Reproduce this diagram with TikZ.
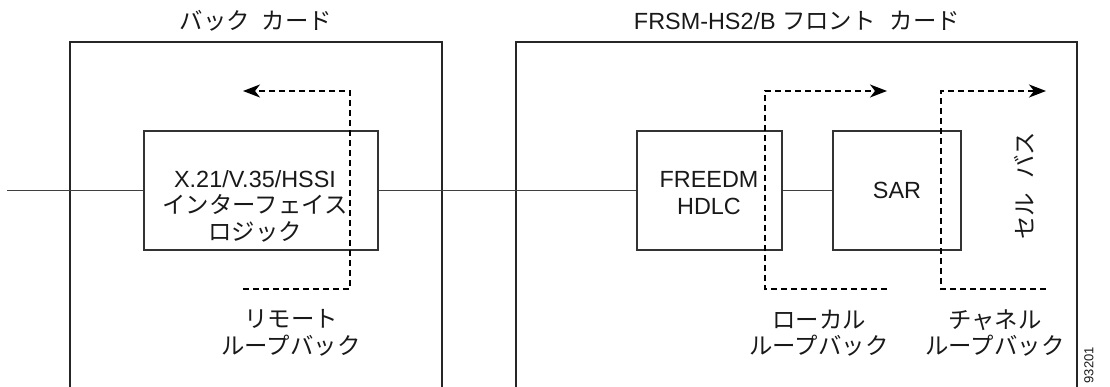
\documentclass[tikz,border=0pt]{standalone}
\usepackage{fontspec}
\setmainfont{Liberation Sans}
\newfontfamily\jp{Noto Sans CJK JP}
\usetikzlibrary{arrows.meta}
\begin{document}
\begin{tikzpicture}[x=1pt,y=-1pt,
  card/.style={draw=black!85, line width=1.4pt},
  blk/.style={draw=black!80, line width=1.4pt, rectangle, inner sep=0pt},
  wire/.style={draw=black!75, line width=1.4pt},
  loopline/.style={draw=black, line width=1.5pt, dash pattern=on 6pt off 4pt,
    -{Stealth[length=17pt,width=13pt,inset=5pt]}},
  txt/.style={font=\fontsize{23.4}{26.5}\selectfont, text=black!90, inner sep=0pt, align=center},
  small/.style={font=\fontsize{13}{15}\selectfont, text=black!90, inner sep=0pt}]
\useasboundingbox (0,0) rectangle (1110,387);

% cards
\draw[card] (70,387) -- (70,42) -- (442,42) -- (442,387);
\draw[card] (516,387) -- (516,42) -- (1077,42) -- (1077,387);
\node[txt] (backt) at (256,21) {\jp バック\hspace{0.5em}カード};
\node[txt] (frontt) at (797,21) {FRSM-HS2/B {\jp フロント\hspace{0.6em}カード}};

% blocks
\node[blk, minimum width=234pt, minimum height=119pt] (iface) at (261,190.5) {};
\node[txt] (ifacet) at (255,206) {X.21/V.35/HSSI\\{\jp インターフェイス}\\{\jp ロジック}};
\node[blk, minimum width=145pt, minimum height=119pt] (freedm) at (709.5,190.5) {};
\node[txt] (freedmt) at (709,193) {FREEDM\\HDLC};
\node[blk, minimum width=128pt, minimum height=119pt] (sar) at (897,190.5) {};
\node[txt] (sart) at (897,190) {SAR};

% wires
\coordinate (ext) at (7,190.5);
\draw[wire] (ext) -- (iface.west);
\draw[wire] (iface.east) -- (freedm.west);
\draw[wire] (freedm.east) -- (sar.west);

% remote loopback
\coordinate (rb) at (243,289);
\coordinate (rc1) at (350,289);
\coordinate (rc2) at (350,91);
\coordinate (rt) at (243,91);
\draw[loopline] (rb) -- (rc1) -- (rc2) -- (rt);
\node[txt] (remt) at (291,333) {\jp リモート\\\jp ループバック};

% local loopback
\coordinate (lb) at (887,289);
\coordinate (lc1) at (765,289);
\coordinate (lc2) at (765,91);
\coordinate (lt) at (887,91);
\draw[loopline] (lb) -- (lc1) -- (lc2) -- (lt);
\node[txt] (loct) at (819,333) {\jp ローカル\\\jp ループバック};

% channel loopback
\coordinate (cb) at (1046,289);
\coordinate (cc1) at (941,289);
\coordinate (cc2) at (941,91);
\coordinate (ct) at (1046,91);
\draw[loopline] (cb) -- (cc1) -- (cc2) -- (ct);
\node[txt] (chat) at (995,333) {\jp チャネル\\\jp ループバック};

% cell bus
\node[txt, rotate=90] (cellbus) at (1024,186) {\jp セル\hspace{0.6em}バス};

% figure number
\node[small, rotate=90, anchor=east] (fignum) at (1089,347) {93201};
\end{tikzpicture}
\end{document}
